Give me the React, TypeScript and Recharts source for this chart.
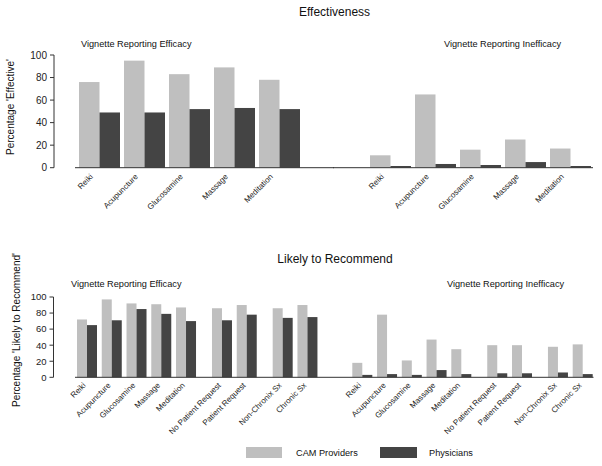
import React from "react"
import { BarChart, Bar, XAxis, YAxis, ReferenceLine } from "recharts"

const CAM_FILL = "#bfbfbf"
const PHYS_FILL = "#444444"
const FONT = '"Liberation Sans", Arial, Helvetica, sans-serif'

// Effectiveness panel
const effCategories = ["Reiki", "Acupuncture", "Glucosamine", "Massage", "Meditation"]
const effEfficacyCam = [76, 95, 83, 89, 78]
const effEfficacyPhys = [49, 49, 52, 53, 52]
const effInefficacyCam = [11, 65, 16, 25, 17]
const effInefficacyPhys = [1.5, 3.3, 2.4, 5, 1.5]

// Likely to Recommend panel
const recCategories = [
  "Reiki",
  "Acupuncture",
  "Glucosamine",
  "Massage",
  "Meditation",
  "No Patient Request",
  "Patient Request",
  "Non-Chronix Sx",
  "Chronic Sx",
]
const recGroups = [0, 0, 0, 0, 0, 1, 1, 2, 2]
const recEfficacyCam = [72, 97, 92, 91, 87, 86, 90, 86, 90]
const recEfficacyPhys = [65, 71, 85, 79, 70, 71, 78, 74, 75]
const recInefficacyCam = [18, 78, 21, 47, 35, 40, 40, 38, 41]
const recInefficacyPhys = [3, 4, 3, 9, 4, 5, 5, 6, 4]

const yTicks = [0, 20, 40, 60, 80, 100]
const seriesNames = ["CAM Providers", "Physicians"]

type Row = { name: string; cam: number; phys: number; group: number }

const toRows = (names: string[], cam: number[], phys: number[], groups?: number[]): Row[] =>
  names.map((name, i) => ({ name, cam: cam[i], phys: phys[i], group: groups ? groups[i] : 0 }))

interface HalfProps {
  data: Row[]
  left: number
  top: number
  width: number
  height: number
  plotTop: number
  plotBottom: number
  marginRight: number
  yAxisWidth: number
  padL: number
  padR: number
  barSize: number
  groupShift: number
  tickDx: number
  tickDy: number
  baseFrom: number
  yFont?: number
}

function Half(p: HalfProps) {
  const xAxisH = 40
  const margin = {
    top: p.plotTop - p.top,
    bottom: p.top + p.height - p.plotBottom - xAxisH,
    left: 0,
    right: p.marginRight,
  }
  const main = p.yAxisWidth > 0

  const bar = (fill: string) => (s: any) => (
    <rect
      x={s.x + (s.payload?.group ?? 0) * p.groupShift}
      y={s.y}
      width={s.width}
      height={Math.max(0, s.height)}
      fill={fill}
    />
  )

  const tick = (t: any) => {
    const row = p.data.find((r) => r.name === t.payload.value)
    const x = t.x + (row ? row.group : 0) * p.groupShift + p.tickDx
    const y = t.y + p.tickDy
    return (
      <text
        x={x}
        y={y}
        transform={`rotate(-45 ${x} ${y})`}
        textAnchor="end"
        fontSize={8}
        fill="#222"
        fontFamily={FONT}
      >
        {t.payload.value}
      </text>
    )
  }

  return (
    <div style={{ position: "absolute", left: p.left, top: p.top }}>
      <BarChart width={p.width} height={p.height} data={p.data} margin={margin} barGap={0}>
        {main ? (
          <YAxis
            domain={[0, 100]}
            ticks={yTicks}
            width={p.yAxisWidth}
            tickSize={4}
            tickMargin={3}
            axisLine={{ stroke: "#333" }}
            tickLine={{ stroke: "#333" }}
            tick={{ fontSize: p.yFont ?? 10, fill: "#222", fontFamily: FONT }}
          />
        ) : (
          <YAxis
            domain={[0, 100]}
            ticks={yTicks}
            width={0}
            tick={false}
            tickLine={false}
            axisLine={{ stroke: "#e2e2e2" }}
          />
        )}
        <XAxis
          dataKey="name"
          interval={0}
          height={xAxisH}
          axisLine={false}
          tickLine={false}
          tickSize={0}
          tickMargin={0}
          padding={{ left: p.padL, right: p.padR }}
          tick={tick}
        />
        <Bar dataKey="cam" fill={CAM_FILL} barSize={p.barSize} isAnimationActive={false} shape={bar(CAM_FILL)} />
        <Bar dataKey="phys" fill={PHYS_FILL} barSize={p.barSize} isAnimationActive={false} shape={bar(PHYS_FILL)} />
        <ReferenceLine
          y={0}
          ifOverflow="visible"
          shape={(l: any) => (
            <line x1={l.x1 + p.baseFrom} y1={l.y1} x2={l.x2} y2={l.y2} stroke="#333" strokeWidth={1} />
          )}
        />
      </BarChart>
    </div>
  )
}

export default function App() {
  const effLeft = toRows(effCategories, effEfficacyCam, effEfficacyPhys)
  const effRight = toRows(effCategories, effInefficacyCam, effInefficacyPhys)
  const recLeft = toRows(recCategories, recEfficacyCam, recEfficacyPhys, recGroups)
  const recRight = toRows(recCategories, recInefficacyCam, recInefficacyPhys, recGroups)

  const txt = { fontFamily: FONT, fill: "#111" }

  return (
    <div style={{ position: "absolute", left: 0, top: 0, width: 602, height: 466, background: "#fff", fontFamily: FONT }}>
      <Half
        data={effLeft}
        left={0}
        top={0}
        width={334}
        height={230}
        plotTop={55}
        plotBottom={167.7}
        marginRight={0}
        yAxisWidth={54}
        padL={23}
        padR={32}
        barSize={20.5}
        groupShift={0}
        tickDx={-6}
        tickDy={9.5}
        baseFrom={21}
      />
      <Half
        data={effRight}
        left={333}
        top={0}
        width={269}
        height={230}
        plotTop={55}
        plotBottom={167.7}
        marginRight={9}
        yAxisWidth={0}
        padL={35}
        padR={0}
        barSize={20.5}
        groupShift={0}
        tickDx={-6}
        tickDy={9.5}
        baseFrom={0}
      />
      <Half
        data={recLeft}
        left={0}
        top={230}
        width={334}
        height={215}
        plotTop={297}
        plotBottom={377.3}
        marginRight={0}
        yAxisWidth={53.5}
        padL={21.5}
        padR={36.2}
        barSize={10}
        groupShift={11.2}
        tickDx={-1}
        tickDy={8.5}
        baseFrom={21.5}
        yFont={9.5}
      />
      <Half
        data={recRight}
        left={334}
        top={230}
        width={268}
        height={215}
        plotTop={297}
        plotBottom={377.3}
        marginRight={8.5}
        yAxisWidth={0}
        padL={16.3}
        padR={20.45}
        barSize={10}
        groupShift={11.2}
        tickDx={-1}
        tickDy={8.5}
        baseFrom={0}
      />
      <svg
        width={602}
        height={466}
        style={{ position: "absolute", left: 0, top: 0, pointerEvents: "none" }}
      >
        <text x={334.5} y={15.5} textAnchor="middle" fontSize={12} {...txt}>
          Effectiveness
        </text>
        <text x={81} y={47.3} fontSize={9.2} {...txt}>
          Vignette Reporting Efficacy
        </text>
        <text x={444} y={47} fontSize={9.2} {...txt}>
          Vignette Reporting Inefficacy
        </text>
        <text x={14} y={107} textAnchor="middle" fontSize={10} transform="rotate(-90 14 107)" {...txt}>
          Percentage 'Effective'
        </text>

        <text x={335} y={262.5} textAnchor="middle" fontSize={12} {...txt}>
          Likely to Recommend
        </text>
        <text x={71} y={287.3} fontSize={9.2} {...txt}>
          Vignette Reporting Efficacy
        </text>
        <text x={447} y={287.3} fontSize={9.2} {...txt}>
          Vignette Reporting Inefficacy
        </text>
        <text x={20} y={330} textAnchor="middle" fontSize={10} transform="rotate(-90 20 330)" {...txt}>
          Percentage 'Likely to Recommend'
        </text>

        <rect x={246} y={447} width={36} height={11} fill={CAM_FILL} />
        <text x={296} y={455.5} fontSize={9.2} {...txt}>
          {seriesNames[0]}
        </text>
        <rect x={380} y={447} width={37} height={11} fill={PHYS_FILL} />
        <text x={429} y={455.5} fontSize={9.2} {...txt}>
          {seriesNames[1]}
        </text>
      </svg>
    </div>
  )
}
